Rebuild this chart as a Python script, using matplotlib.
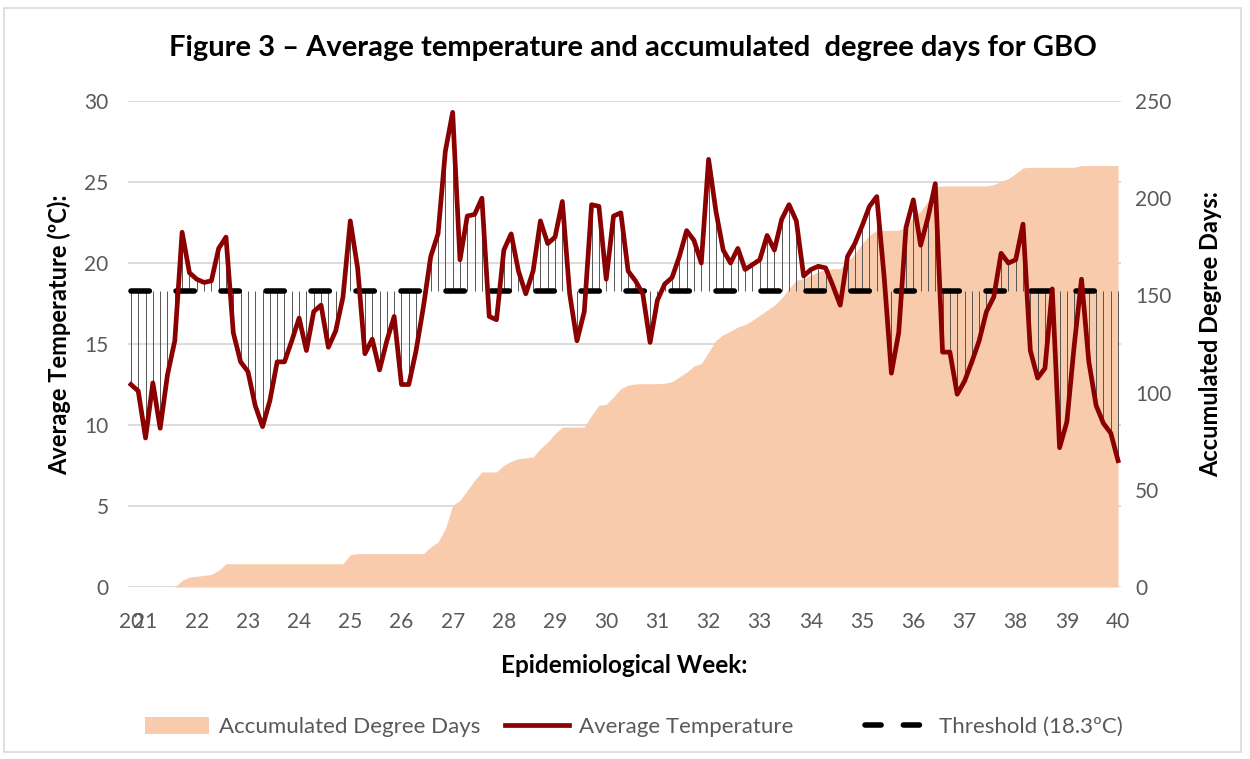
import numpy as np
import matplotlib
matplotlib.use('Agg')
import matplotlib.pyplot as plt
from matplotlib.lines import Line2D
from matplotlib.patches import Patch, Rectangle

plt.rcParams['font.family'] = ['Lato', 'DejaVu Sans']

## Data (one value per day)
avg_temp = [12.5, 12.1, 9.2, 12.6, 9.8, 13.1, 15.2, 21.9, 19.4, 19.0,
            18.8, 18.9, 20.9, 21.6, 15.7, 13.9, 13.3, 11.2, 9.9, 11.5,
            13.9, 13.9, 15.2, 16.6, 14.6, 17.0, 17.4, 14.8, 15.8, 17.9,
            22.6, 19.7, 14.4, 15.3, 13.4, 15.2, 16.7, 12.5, 12.5, 14.6,
            17.3, 20.4, 21.8, 26.9, 29.3, 20.2, 22.9, 23.0, 24.0, 16.7,
            16.5, 20.8, 21.8, 19.5, 18.1, 19.5, 22.6, 21.2, 21.6, 23.8,
            18.1, 15.2, 17.0, 23.6, 23.5, 19.0, 22.9, 23.1, 19.5, 18.9,
            18.1, 15.1, 17.7, 18.7, 19.1, 20.4, 22.0, 21.4, 20.0, 26.4,
            23.2, 20.8, 20.0, 20.9, 19.6, 19.9, 20.2, 21.7, 20.8, 22.7,
            23.6, 22.6, 19.2, 19.6, 19.8, 19.7, 18.6, 17.4, 20.4, 21.2,
            22.3, 23.5, 24.1, 19.2, 13.2, 15.7, 22.2, 23.9, 21.1, 22.8,
            24.9, 14.5, 14.5, 11.9, 12.7, 13.9, 15.2, 17.0, 17.9, 20.6,
            20.0, 20.2, 22.4, 14.6, 12.9, 13.5, 18.4, 8.6, 10.2, 14.9,
            19.0, 13.9, 11.2, 10.1, 9.5, 7.8]

acc_degree_days = [0, 0, 0, 0, 0, 0, 0, 3.4, 5.1, 5.5,
                   6.0, 6.5, 8.6, 12.0, 12.0, 12.0, 12.0, 12.0, 12.0, 12.0,
                   12.0, 12.0, 12.0, 12.0, 12.0, 12.0, 12.0, 12.0, 12.0, 12.0,
                   16.6, 17.2, 17.2, 17.2, 17.2, 17.2, 17.2, 17.2, 17.2, 17.2,
                   17.2, 20.6, 23.2, 30.0, 42.0, 44.6, 49.7, 54.9, 59.2, 59.2,
                   59.2, 62.6, 64.7, 66.0, 66.4, 66.9, 71.2, 74.6, 78.9, 82.3,
                   82.3, 82.3, 82.3, 88.3, 93.5, 94.0, 97.8, 102.1, 103.8, 104.5,
                   104.6, 104.6, 104.6, 104.8, 105.7, 108.1, 110.5, 113.7, 114.9, 120.9,
                   126.9, 129.8, 131.6, 133.8, 135.0, 137.2, 139.8, 142.4, 145.0, 148.7,
                   153.6, 157.8, 158.7, 160.4, 162.1, 163.5, 163.8, 163.8, 167.2, 171.5,
                   176.7, 181.0, 183.5, 183.5, 183.5, 183.5, 185.2, 190.4, 193.3, 198.5,
                   205.8, 206.3, 206.3, 206.3, 206.3, 206.3, 206.3, 206.3, 207.0, 208.7,
                   210.1, 212.7, 215.6, 215.9, 215.9, 215.9, 215.9, 215.9, 215.9, 215.9,
                   216.8, 216.8, 216.8, 216.8, 216.8, 216.8]

threshold = 18.3
weeks = [20, 21, 22, 23, 24, 25, 26, 27, 28, 29, 30,
         31, 32, 33, 34, 35, 36, 37, 38, 39, 40]
days_in_week = [2, 7, 7, 7, 7, 7, 7, 7, 7, 7, 7,
                7, 7, 7, 7, 7, 7, 7, 7, 7, 1]

day = np.arange(len(avg_temp))
week_start = np.concatenate([[0], np.cumsum(days_in_week)[:-1]])

grey = '#595959'
peach = '#F8CBAD'
darkred = '#8B0000'

fig = plt.figure(figsize=(12.5, 7.59), dpi=100)
ax = fig.add_axes([0.1024, 0.2266, 0.7944, 0.6403])
ax2 = ax.twinx()

## Right axis: accumulated degree days as area (drawn underneath)
ymax_t = 30
ymax_d = 250
for v in range(0, ymax_t + 1, 5):
    ax2.axhline(v * ymax_d / ymax_t, color='#d9d9d9', lw=1.3, zorder=0)
ax2.fill_between(day, 0, acc_degree_days, color=peach, lw=0, zorder=1)
ax2.set_ylim(0, ymax_d)
ax2.set_yticks(range(0, ymax_d + 1, 50))

## Left axis: temperature, high-low lines and threshold on top
ax.set_zorder(ax2.get_zorder() + 1)
ax.patch.set_visible(False)
ax.vlines(day, threshold, avg_temp, color='#555555', lw=0.7, zorder=2)
ax.plot(day, [threshold] * len(day), color='black', lw=4, dashes=(3.3, 4.8),
        dash_capstyle='round', zorder=3)
ax.plot(day, avg_temp, color=darkred, lw=3.4, solid_joinstyle='round', zorder=4)
ax.set_ylim(0, ymax_t)
ax.set_yticks(range(0, ymax_t + 1, 5))
ax.set_xlim(-0.4, len(day) - 0.6)
ax.set_xticks(week_start)
ax.set_xticklabels([str(w) for w in weeks])

for a in (ax, ax2):
    for s in a.spines.values():
        s.set_visible(False)
    a.tick_params(length=0, labelsize=15, colors=grey)
ax.tick_params(axis='x', pad=18)
ax.tick_params(axis='y', pad=14)
ax2.tick_params(axis='y', pad=10)

ax.set_xlabel('Epidemiological Week:', fontsize=17.5, fontweight='bold', labelpad=16)
ax.set_ylabel('Average Temperature (ºC):', fontsize=17, fontweight='bold')
ax.yaxis.set_label_coords(-0.057, 0.52)
ax2.set_ylabel('Accumulated Degree Days:', fontsize=17, fontweight='bold')
ax2.yaxis.set_label_coords(1.079, 0.52)

fig.text(0.506, 0.937, 'Figure 3 – Average temperature and accumulated  degree days for GBO',
         ha='center', va='center', fontsize=21, fontweight='bold')

## Legend: three equal-width entries, like the spreadsheet legend
handles = [Patch(facecolor=peach, edgecolor='none'),
           Line2D([], [], color=darkred, lw=3.4),
           Line2D([], [], color='black', lw=4, dashes=(2.9, 4.0), dash_capstyle='round')]
labels = ['Accumulated Degree Days', 'Average Temperature', 'Threshold (18.3ºC)']
legend_x = [0.116, 0.404, 0.692]
for h, lab, lx in zip(handles, labels, legend_x):
    leg = fig.legend([h], [lab], loc='center left', bbox_to_anchor=(lx, 0.042),
                     frameon=False, fontsize=16, handlelength=2.9, handleheight=0.8,
                     handletextpad=0.45, borderpad=0, borderaxespad=0)
    for t in leg.get_texts():
        t.set_color(grey)

## Chart border
fig.patches.append(Rectangle((0.003, 0.009), 0.99, 0.98, transform=fig.transFigure,
                             fill=False, edgecolor='#d9d9d9', lw=1.2))

fig.savefig('out.png', dpi=100)
